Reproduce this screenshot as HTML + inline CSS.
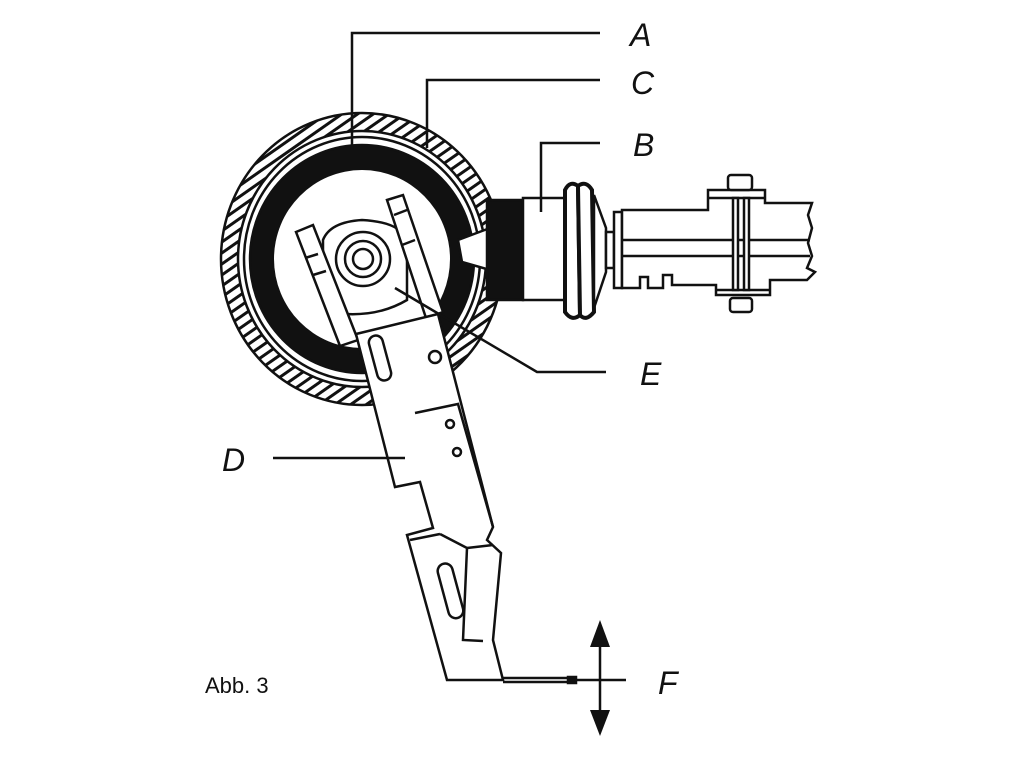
<!DOCTYPE html>
<html><head><meta charset="utf-8"><style>
html,body{margin:0;padding:0;background:#fff;}
svg{display:block;}
text{font-family:"Liberation Sans",sans-serif;fill:#111;}
.l{font-size:32px;font-style:italic;}
</style></head><body>
<svg width="1036" height="766" viewBox="0 0 1036 766" xmlns="http://www.w3.org/2000/svg">
<defs>
<pattern id="h" width="9" height="9" patternUnits="userSpaceOnUse" patternTransform="rotate(-35)">
<rect width="9" height="9" fill="#fff"/><rect width="9" height="3" fill="#111"/>
</pattern>
<clipPath id="ring"><circle cx="362" cy="259" r="146"/></clipPath>
</defs>
<g stroke="#111" stroke-width="2.5" fill="none">
<!-- outer hatched ring -->
<ellipse cx="362" cy="259" rx="141" ry="146" fill="url(#h)"/>
<ellipse cx="362" cy="259" rx="124" ry="128" fill="#fff"/>
<ellipse cx="362" cy="259" rx="118" ry="122" fill="#fff"/>
<ellipse cx="362" cy="259" rx="112" ry="114" fill="#111"/>
<ellipse cx="362" cy="259" rx="88" ry="89" fill="#fff" stroke="none"/>
<!-- white wedge at right -->
<polygon points="458,240 490,228 490,270 462,262" fill="#fff"/>
<!-- B block -->
<rect x="487" y="200" width="36" height="100" fill="#111"/>
<path d="M523,198 H565 V300 H523 Z" fill="#fff"/>
<!-- flange -->
<path d="M565,190 Q570,180 578,186 L580,315 Q572,322 565,312 Z" fill="#fff" stroke-width="4"/>
<path d="M578,186 Q586,180 592,190 L594,312 Q586,322 580,315 Z" fill="#fff" stroke-width="4"/>
<path d="M594,195 L606,228 L606,272 L594,308 Z" fill="#fff"/>
<rect x="606" y="232" width="8" height="36" fill="#fff"/>
<rect x="614" y="212" width="8" height="76" fill="#fff"/>
<!-- shaft -->
<path d="M622,210 H708 V190 H765 V203 H812 L808,215 812,228 808,243 812,256 807,268 815,272 807,280 H770 V295 H716 V285 H672 V275 H663 V288 H648 V277 H640 V288 H622 Z" fill="#fff"/>
<line x1="622" y1="240" x2="810" y2="240"/>
<line x1="622" y1="256" x2="810" y2="256"/>
<line x1="708" y1="198" x2="765" y2="198"/>
<line x1="716" y1="290" x2="770" y2="290"/>
<rect x="733" y="198" width="5" height="92" fill="#fff"/>
<rect x="744" y="198" width="5" height="92" fill="#fff"/>
<rect x="728" y="175" width="24" height="15" rx="3" fill="#fff"/>
<rect x="730" y="298" width="22" height="14" rx="3" fill="#fff"/>
<!-- hub plate -->
<path d="M323,240 Q330,222 362,220 Q400,222 407,240 L407,300 Q380,316 345,314 Q325,310 323,296 Z" fill="#fff"/>
<circle cx="363" cy="259" r="27" fill="#fff"/>
<circle cx="363" cy="259" r="18" fill="#fff"/>
<circle cx="363" cy="259" r="10" fill="#fff"/>
<!-- forks -->
<polygon points="296,232 313,225 358,340 340,346" fill="#fff"/>
<line x1="305" y1="258" x2="318" y2="254"/><line x1="313" y1="275" x2="326" y2="271"/>
<polygon points="387,200 403,195 443,312 426,318" fill="#fff"/>
<line x1="394" y1="215" x2="407" y2="210"/><line x1="402" y1="245" x2="415" y2="240"/>
<!-- arm -->
<path d="M356,334 L438,314 L493,527 L487,540 L501,553 L493,640 L503,680 H447 L407,535 L433,528 L420,482 L395,487 Z" fill="#fff"/>
<path d="M415,413 L458,404 L493,527" />
<line x1="410" y1="540" x2="440" y2="534"/>
<path d="M440,534 L467,548 L463,640 L483,641" />
<line x1="467" y1="548" x2="493" y2="545"/>
<rect x="373" y="335" width="14" height="46" rx="7" transform="rotate(-15 380 358)" fill="#fff"/>
<circle cx="435" cy="357" r="6" fill="#fff"/>
<circle cx="450" cy="424" r="4"/><circle cx="457" cy="452" r="4"/>
<rect x="443" y="563" width="15" height="56" rx="7.5" transform="rotate(-15 450 591)" fill="#fff"/>
<!-- F needle -->
<line x1="503" y1="678" x2="570" y2="678"/>
<line x1="503" y1="682" x2="570" y2="682"/>
<rect x="568" y="677" width="8" height="6" fill="#111"/>
<line x1="576" y1="680" x2="626" y2="680"/>
<line x1="600" y1="640" x2="600" y2="718"/>
<!-- leaders -->
<polyline points="352,150 352,33 600,33"/>
<polyline points="427,148 427,80 600,80"/>
<polyline points="541,212 541,143 600,143"/>
<polyline points="395,288 537,372 606,372"/>
<line x1="273" y1="458" x2="405" y2="458"/>
</g>
<polygon points="600,620 590,647 610,647" fill="#111"/>
<polygon points="600,736 590,710 610,710" fill="#111"/>
<text class="l" x="630" y="46">A</text>
<text class="l" x="631" y="94">C</text>
<text class="l" x="633" y="156">B</text>
<text class="l" x="640" y="385">E</text>
<text class="l" x="222" y="471">D</text>
<text class="l" x="658" y="694">F</text>
<text x="205" y="693" style="font-size:22px">Abb. 3</text>
</svg>
</body></html>
